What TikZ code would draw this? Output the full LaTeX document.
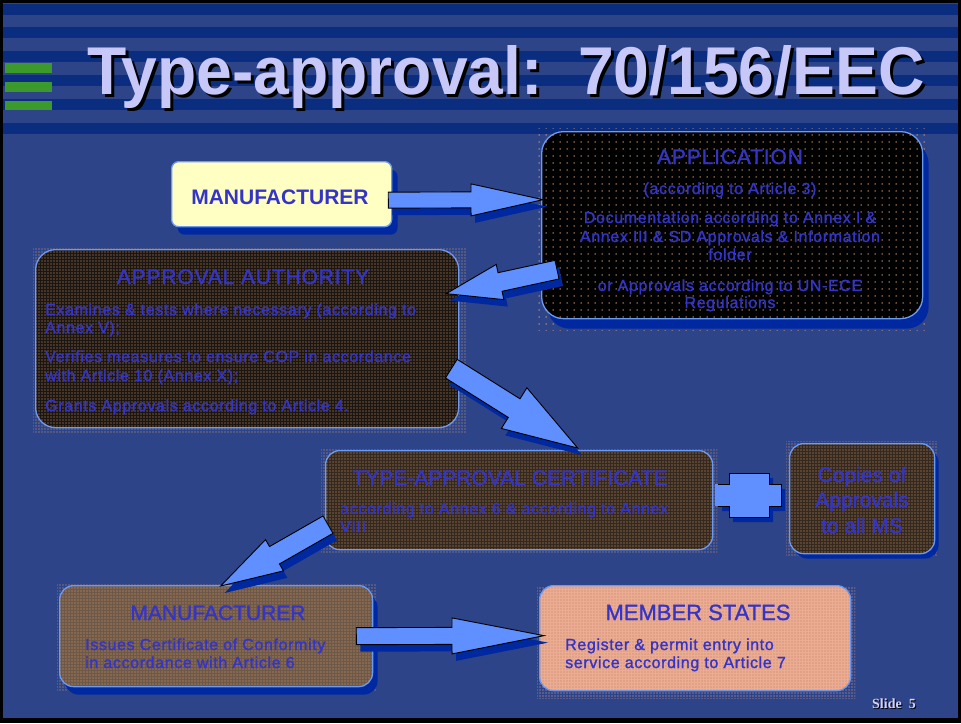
\documentclass[tikz,border=0pt]{standalone}
\usepackage{fontspec}
\setmainfont{Liberation Sans}
\newfontfamily\capsfont[LetterSpace=4,FakeBold=1.2]{Liberation Sans}
\newfontfamily\ttfont[FakeBold=1.2]{Liberation Sans}
\newfontfamily\bodyfont[LetterSpace=4,FakeBold=1.3]{Liberation Sans}
\newfontfamily\slidefont{Liberation Serif}
\usetikzlibrary{calc,patterns.meta,shadows}
\definecolor{bg}{HTML}{2E4488}
\definecolor{stripe}{HTML}{0A2D80}
\definecolor{grn}{HTML}{3C9A2C}
\definecolor{lav}{HTML}{C8C8F8}
\definecolor{txt}{HTML}{3434C8}
\definecolor{edge}{HTML}{6A9AF2}
\definecolor{shad}{HTML}{0028A0}
\definecolor{arr}{HTML}{6090FF}
\definecolor{dot}{HTML}{D8A070}
\definecolor{yel}{HTML}{FFFFC4}
\definecolor{fauth}{HTML}{1C1612}
\definecolor{fcert}{HTML}{34281F}
\definecolor{fman}{HTML}{6E5848}
\definecolor{fms}{HTML}{EBAC92}
\definecolor{dms}{HTML}{C08068}
\tikzset{
  halo/.style={pattern={Dots[distance=3pt,radius=0.7pt]}, pattern color=#1},
  bigdots/.style={pattern={Dots[distance=7pt,radius=0.75pt]}, pattern color=dot},
  rbox/.style={draw=edge, line width=1.3pt, inner sep=0pt, anchor=north west},
  fine/.style={postaction={pattern={Dots[distance=3pt,radius=0.7pt]}, pattern color=#1}},
  tt/.style={text=txt, inner sep=0pt, anchor=base, font=\ttfont\fontsize{21pt}{24pt}\selectfont},
  ttls/.style={text=txt, inner sep=0pt, anchor=base, font=\capsfont\fontsize{21pt}{24pt}\selectfont},
  bd/.style={text=txt, inner sep=0pt, anchor=base west, font=\bodyfont\fontsize{16pt}{18pt}\selectfont},
  bdc/.style={text=txt, inner sep=0pt, anchor=base, font=\bodyfont\fontsize{16pt}{18pt}\selectfont},
  arrowst/.style={fill=arr, draw=black, line width=0.9pt, line join=miter},
}
\newcommand\blockarrow[5]{%
  \coordinate (bah) at ($(#2)!#5!(#1)$);
  \fill[shad, transform canvas={shift={(4,7)}}] ($(#1)!#3!90:(#2)$) -- ($(bah)!#3!90:(#2)$) -- ($(bah)!#4!90:(#2)$) -- (#2) -- ($(bah)!#4!-90:(#2)$) -- ($(bah)!#3!-90:(#2)$) -- ($(#1)!#3!-90:(#2)$) -- cycle;
  \draw[arrowst] ($(#1)!#3!90:(#2)$) -- ($(bah)!#3!90:(#2)$) -- ($(bah)!#4!90:(#2)$) -- (#2) -- ($(bah)!#4!-90:(#2)$) -- ($(bah)!#3!-90:(#2)$) -- ($(#1)!#3!-90:(#2)$) -- cycle;
}
\begin{document}
\begin{tikzpicture}[x=1pt,y=-1pt]
\useasboundingbox (0,0) rectangle (961,723);
% background and header
\fill[black] (0,0) rectangle (961,723);
\fill[bg] (3,3) rectangle (958,718);
\foreach \k in {0,...,5} \fill[stripe] (3,{3.5+23.8*\k}) rectangle (958,{14.5+23.8*\k});
\fill[grn] (5,63) rectangle (52,73);
\fill[grn] (5,82) rectangle (52,92);
\fill[grn] (5,101) rectangle (52,110);
\node[anchor=base west, inner sep=0pt, text=black] (titsh) at (90,97) {\resizebox{837pt}{49pt}{\bfseries Type-approval:\ \ 70/156/EEC}};
\node[anchor=base west, inner sep=0pt, text=lav] (tit) at (87,94) {\resizebox{837pt}{49pt}{\bfseries Type-approval:\ \ 70/156/EEC}};

% halos
\path[bigdots] (537,128) rectangle (930,330);
\path[halo=dot] (33,247) rectangle (466,433);
\path[halo=dot] (321,448) rectangle (717,553);
\path[halo=dot] (786,441) rectangle (938,556);
\path[halo=dot] (57,584) rectangle (376,690);
\path[halo=fms] (537,586) rectangle (855,698);

% boxes
\node[rbox, fill=yel, rounded corners=7pt, minimum width=220pt, minimum height=65pt,
  drop shadow={shadow xshift=6pt, shadow yshift=-8pt, fill=shad, opacity=1}] (man1) at (171,161) {};
\node[rbox, fill=black, rounded corners=22pt, minimum width=381pt, minimum height=187pt,
  drop shadow={shadow xshift=6pt, shadow yshift=-10pt, fill=shad, opacity=1},
  postaction={bigdots}] (app) at (541,131) {};
\node[rbox, fill=fauth, fine=dot, rounded corners=20pt, minimum width=423pt, minimum height=178pt] (auth) at (35,249) {};
\node[rbox, fill=fcert, fine=dot, rounded corners=14pt, minimum width=387pt, minimum height=99pt] (cert) at (325,450) {};
\node[rbox, fill=fcert, fine=dot, rounded corners=14pt, minimum width=145pt, minimum height=110pt,
  drop shadow={shadow xshift=4pt, shadow yshift=-5pt, fill=shad, opacity=1}] (copies) at (789,443) {};
\node[rbox, fill=fman, fine=dot, rounded corners=14pt, minimum width=313pt, minimum height=101pt,
  drop shadow={shadow xshift=5pt, shadow yshift=-8pt, fill=shad, opacity=1}] (man2) at (59,585) {};
\node[rbox, fill=fms, fine=dms, rounded corners=14pt, minimum width=311pt, minimum height=105pt] (ms) at (539,585) {};

% texts
\node[anchor=base, inner sep=0pt, text=txt, font=\bfseries\fontsize{21pt}{24pt}\selectfont] (t1) at (280,204) {MANUFACTURER};

\node[ttls] (t2) at (730,164) {APPLICATION};
\node[bdc] (t3) at (730,194) {(according to Article 3)};
\node[bdc] (t4) at (730,223) {Documentation according to Annex I \&};
\node[bdc] (t5) at (730,242) {Annex III \& SD Approvals \& Information};
\node[bdc] (t6) at (730,260) {folder};
\node[bdc] (t7) at (730,291) {or Approvals according to UN-ECE};
\node[bdc] (t8) at (730,308) {Regulations};

\node[ttls] (t9) at (243,284) {APPROVAL AUTHORITY};
\node[bd] (t10) at (45,315) {Examines \& tests where necessary (according to};
\node[bd] (t11) at (45,333) {Annex V);};
\node[bd] (t12) at (45,362) {Verifies measures to ensure COP in accordance};
\node[bd] (t13) at (45,381) {with Article 10 (Annex X);};
\node[bd] (t14) at (45,411) {Grants Approvals according to Article 4.};

\node[tt] (t15) at (510,485) {TYPE-APPROVAL CERTIFICATE};
\node[bd] (t16) at (340,514) {according to Annex 6 \& according to Annex};
\node[bd] (t17) at (340,532) {VIII};

\node[tt] (t18) at (862,482) {Copies of};
\node[tt] (t19) at (862,507) {Approvals};
\node[tt] (t20) at (862,533) {to all MS};

\node[tt] (t21) at (218,620) {MANUFACTURER};
\node[bd] (t22) at (85,650) {Issues Certificate of Conformity};
\node[bd] (t23) at (85,668) {in accordance with Article 6};

\node[tt, font=\ttfont\fontsize{22pt}{24pt}\selectfont] (t24) at (698,620) {MEMBER STATES};
\node[bd] (t25) at (565,650) {Register \& permit entry into};
\node[bd] (t26) at (565,668) {service according to Article 7};

% cross connector between certificate and copies
\fill[shad] (722,489) -- (733,489) -- (733,478) -- (773,478) -- (773,489) -- (785,489) -- (785,511) -- (773,511) -- (773,522) -- (733,522) -- (733,511) -- (722,511) -- cycle;
\fill[arr] (715,484) -- (729,484) -- (729,473) -- (769,473) -- (769,484) -- (781,484) -- (781,506) -- (769,506) -- (769,517) -- (729,517) -- (729,506) -- (715,506) -- cycle;
\draw[black, line width=0.9pt] (718,484) -- (729,484) -- (729,473) -- (769,473) -- (769,484) -- (781,484) -- (781,506) -- (769,506) -- (769,517) -- (729,517) -- (729,506) -- (718,506);

% block arrows
\coordinate (a1s) at ($(man1.east)+(-4,6)$);
\coordinate (a1e) at ($(app.west)+(2,-25.5)$);
\blockarrow{a1s}{a1e}{8pt}{16pt}{72pt}
\coordinate (a2s) at ($(app.west)+(16,44.5)$);
\coordinate (a2e) at ($(auth.east)+(-13,-45)$);
\blockarrow{a2s}{a2e}{9.5pt}{18pt}{55pt}
\coordinate (a3s) at ($(auth.east)+(-8,30)$);
\coordinate (a3e) at ($(cert.north)+(58.5,-2)$);
\blockarrow{a3s}{a3e}{11pt}{24pt}{75pt}
\coordinate (a4s) at ($(cert.west)+(3,24.5)$);
\coordinate (a4e) at ($(man2.north)+(4.5,1)$);
\blockarrow{a4s}{a4e}{10pt}{18pt}{62pt}
\coordinate (a5s) at ($(man2.east)+(-17,0)$);
\coordinate (a5e) at ($(ms.west)+(5,-2.5)$);
\blockarrow{a5s}{a5e}{8.5pt}{18pt}{92pt}

% slide label
\node[anchor=base west, inner sep=0pt, text=black] (sl0) at (873,709) {\slidefont\bfseries\fontsize{14pt}{14pt}\selectfont Slide\ \ 5};
\node[anchor=base west, inner sep=0pt, text=lav!80!white] (sl) at (872,708) {\slidefont\bfseries\fontsize{14pt}{14pt}\selectfont Slide\ \ 5};
\end{tikzpicture}
\end{document}
